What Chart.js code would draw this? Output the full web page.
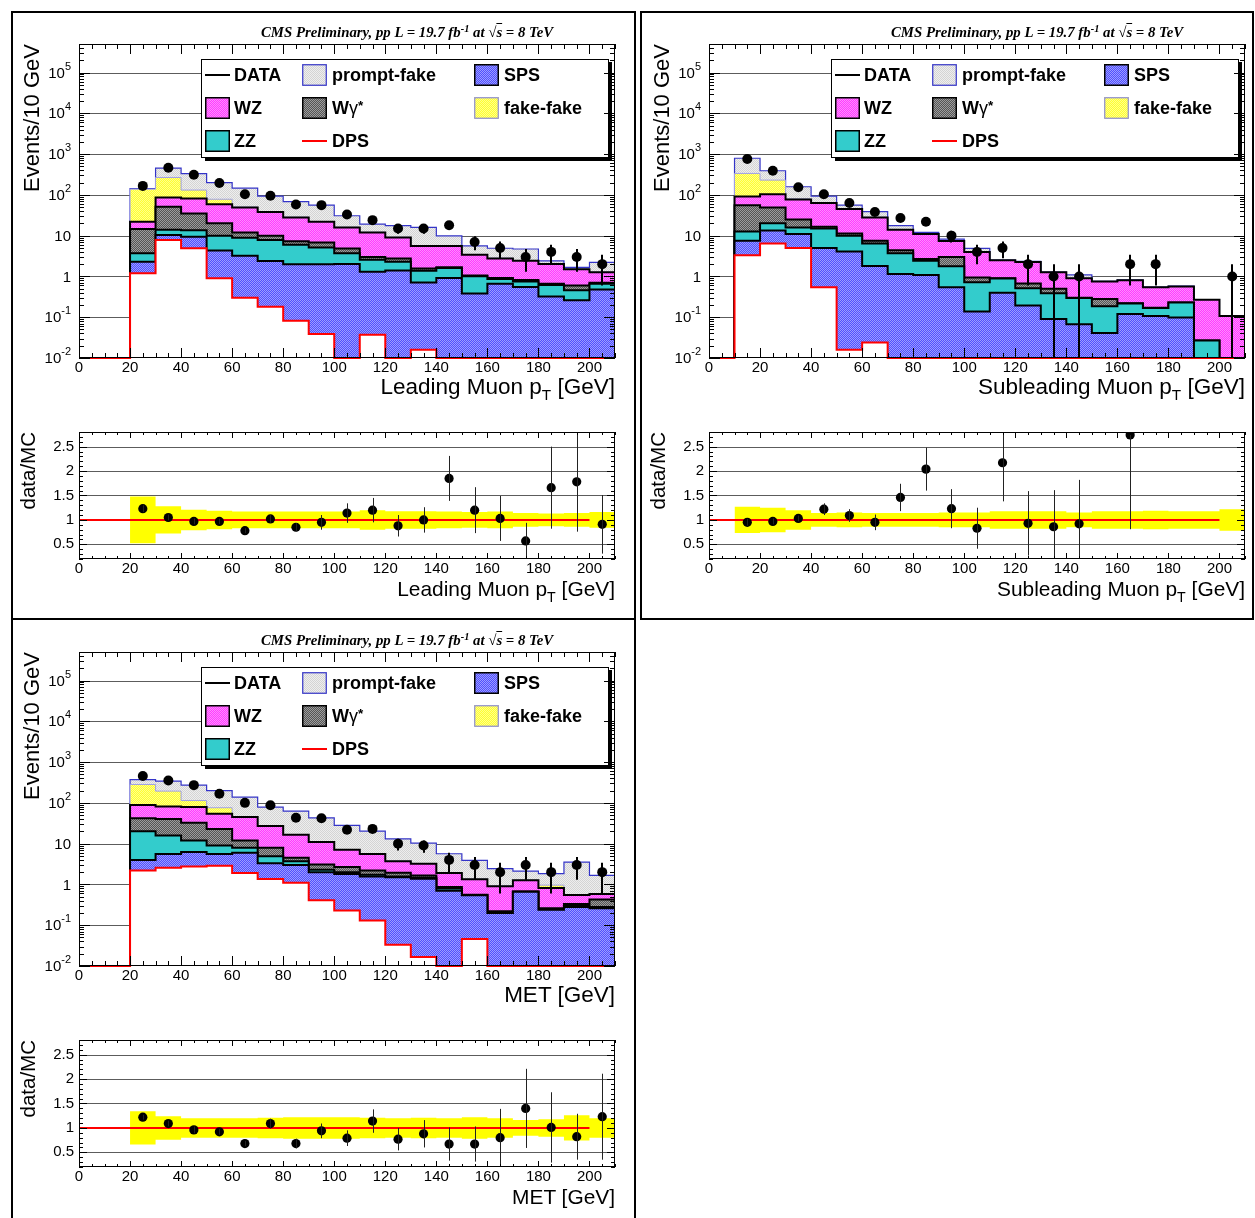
<!DOCTYPE html>
<html>
<head>
<meta charset="utf-8">
<script src="https://cdn.jsdelivr.net/npm/chart.js@4.4.1/dist/chart.umd.min.js"></script>
<style>
html,body{margin:0;padding:0;background:#fff}
body{width:1255px;height:1218px;position:relative;overflow:hidden;font-family:"Liberation Sans",Arial,Helvetica,sans-serif;color:#000}
.frame{position:absolute;border:2px solid #000;box-sizing:border-box}
canvas{position:absolute;display:block}
.cms{position:absolute;font-family:"Liberation Serif","Times New Roman",serif;font-style:italic;font-weight:bold;font-size:14.8px;white-space:nowrap;line-height:1}
.cms sup{font-size:0.7em;vertical-align:0;position:relative;top:-0.5em}
.rt{text-decoration:overline}
.xt{position:absolute;white-space:nowrap;line-height:1;text-align:right}
.yt{position:absolute;white-space:nowrap;line-height:1;transform-origin:0 0;transform:rotate(-90deg) translateX(-100%)}
.sub{position:relative;font-size:0.68em;top:0.38em}
.lg{position:absolute;font-weight:bold;font-size:18px;line-height:1;white-space:nowrap}
.lg sup{font-size:0.75em;vertical-align:0;position:relative;top:-0.3em}
</style>
</head>
<body>
<script>
// ================= DATA =================
const XMAX = 210;
const YMIN = 0.01, YMAX = 5e5;
const RMIN = 0.2, RMAX = 2.8;
const binLow = [0,10,20,30,40,50,60,70,80,90,100,110,120,130,140,150,160,170,180,190,200];
const binCenter = [5,15,25,35,45,55,65,75,85,95,105,115,125,135,145,155,165,175,185,195,205];
const logTickValues = [1e-2,1e-1,1,10,1e2,1e3,1e4,1e5];
const logTickLabels = ['10^-2','10^-1','1','10','10^2','10^3','10^4','10^5'];
const ratioTickValues = [0.5,1,1.5,2,2.5];
const ratioTickLabels = ['0.5','1','1.5','2','2.5'];
const legendLabels = ['DATA','prompt-fake','SPS','WZ','W<span style="font-weight:normal">γ</span><sup>*</sup>','fake-fake','ZZ','DPS'];

// ---- Leading muon pT ----
const lead_dps = [0,0,1.2,7.8,4.9,0.9,0.3,0.18,0.082,0.039,0,0.037,0,0.016,0,0,0,0,0,0,0];
const lead_sps = [0,0,1.1,2.5,4.5,3.4,2.9,2.22,1.92,1.96,2.0,1.26,1.38,0.69,0.91,0.37,0.65,0.54,0.31,0.25,0.47];
const lead_zz  = [0,0,1.4,3.6,4.2,5.7,5.7,5.4,4.0,3.1,1.7,1.26,0.91,0.67,0.69,0.63,0.21,0.20,0.30,0.20,0.18];
const lead_wg  = [0,0,10.8,37,21.4,10,3.1,2.2,1.3,1.7,1.15,0.44,0.47,0.19,0.06,0.04,0.05,0.07,0.04,0.14,0.04];
const lead_wz  = [0,0,7.5,35,47,39,37,28,20.7,15.2,11.05,9.0,6.24,4.03,3.94,2.36,1.85,1.59,1.35,0.91,0.56];
const lead_ff  = [0,0,116,181,49,19,1,0.5,0.3,0.2,0.1,0.1,0.1,0.05,0.05,0.02,0.02,0.01,0.01,0.01,0.01];
const lead_pf  = [0,0,5,183,199,122,96,54.5,39.7,33.8,14.7,7.1,8.4,10.25,4.25,2.18,2.12,2.29,0.39,0.15,0.94];
const lead_data    = [null,null,166,460,310,195,104,95,58,56,33,24,15,15,18,7,5,3,4,3,2];
const lead_dataErr = [null,null,12.9,21.4,17.6,14.0,10.2,9.7,7.6,7.5,5.7,4.9,3.9,3.9,4.2,2.6,2.2,1.7,2.0,1.7,1.4];
const lead_ratio    = [null,null,1.23,1.05,0.97,0.97,0.78,1.02,0.85,0.95,1.14,1.2,0.88,1.0,1.85,1.2,1.03,0.57,1.66,1.78,0.91];
const lead_ratioErr = [null,null,0.07,0.06,0.06,0.055,0.05,0.08,0.085,0.15,0.2,0.25,0.22,0.26,0.46,0.47,0.46,0.37,0.84,1.02,0.6];
const lead_mcUnc    = [null,null,0.48,0.28,0.21,0.19,0.17,0.17,0.17,0.17,0.17,0.2,0.18,0.18,0.17,0.16,0.17,0.14,0.13,0.14,0.16];

// ---- Subleading muon pT ----
const sub_dps = [0,3.3,6.4,5.0,0.54,0.016,0.024,0,0,0,0,0,0,0,0,0,0,0,0,0,0];
const sub_sps = [0,4.2,7.0,6.0,4.46,4.08,1.78,1.14,1.08,0.53,0.129,0.39,0.184,0.080,0.057,0.031,0.11,0.097,0.088,0,0];
const sub_zz  = [0,5.2,6.6,4.9,10,5.8,4.6,2.56,1.32,1.23,0.58,0.49,0.316,0.296,0.227,0.146,0.096,0.061,0.130,0.017,0];
const sub_wg  = [0,43.3,29,9.1,1.5,1.4,1.1,0.7,0.26,1.22,0.22,0.01,0.16,0.114,0.006,0.093,0.004,0.002,0.002,0,0];
const sub_wz  = [0,35,55,52,46.5,33.5,20.5,9.5,8.24,4.37,3.02,1.58,1.58,0.76,0.60,0.47,0.59,0.37,0.34,0.241,0.097];
const sub_ff  = [0,244,126,3,0.5,0.2,0.2,0.1,0.1,0.05,0.01,0,0.01,0,0,0,0,0,0,0,0];
const sub_pf  = [0,455,160,78,29.5,11,10.8,3.5,1.0,0.8,0.9,0.03,0.08,0.02,0.19,0.01,0.01,0.01,0.01,0.002,0];
const sub_data    = [null,760,390,154,104,63,38,27,22,10,4,5,2,1,1,null,2,2,null,null,1];
const sub_dataErr = [null,27.6,19.7,12.4,10.2,7.9,6.2,5.2,4.7,3.2,2.0,2.2,1.4,1,1,null,1.4,1.4,null,null,1];
const sub_ratio    = [null,0.95,0.97,1.03,1.22,1.09,0.95,1.46,2.04,1.23,0.83,2.17,0.93,0.86,0.92,null,2.74,null,null,null,null];
const sub_ratioErr = [null,0.07,0.06,0.06,0.12,0.13,0.16,0.28,0.44,0.4,0.42,0.79,0.66,0.75,0.9,null,1.93,null,null,null,null];
const sub_mcUnc    = [null,0.27,0.25,0.2,0.14,0.15,0.14,0.14,0.14,0.15,0.15,0.18,0.18,0.18,0.15,0.18,0.18,0.19,0.18,0.18,0.22];

// ---- MET ----
const met_dps = [0,0,2.2,2.56,2.76,2.87,1.9,1.35,1.1,0.41,0.23,0.13,0.033,0.0166,0,0.046,0,0,0,0,0];
const met_sps = [0,0,1.8,3.04,3.44,2.73,4.1,1.95,1.9,1.59,1.57,1.44,1.467,1.363,0.69,0.494,0.19,0.65,0.23,0.27,0.25];
const met_zz  = [0,0,16,10.2,5.8,3.4,1.9,1.6,0.7,0.3,0.2,0.16,0.07,0.07,0.09,0.005,0.01,0.005,0.01,0.02,0.02];
const met_wg  = [0,0,22,24.2,20.5,14,4.1,3.0,0.8,0.8,0.66,0.47,0.36,0.21,0.08,0.01,0.01,0.005,0.01,0.03,0.15];
const met_wz  = [0,0,47,42,46.5,31,33,19.1,12,7.8,4.44,3.4,1.77,1.54,1.04,0.78,0.68,0.59,0.56,0.22,0.15];
const met_ff  = [0,0,193,112,35,22,1,0.3,0.2,0.1,0.05,0.05,0.02,0.02,0.01,0.01,0.01,0.01,0.14,0.005,0.005];
const met_pf  = [0,0,88,146,158,124,92,51.7,46.3,32,20.85,14.65,9.38,7.08,3.74,2.56,1.52,0.86,0.88,2.955,1.085];
const met_data    = [null,null,455,355,272,167,100,87,43,42,22,23,10,9,4,3,2,3,2,3,2];
const met_dataErr = [null,null,21.3,18.8,16.5,12.9,10,9.3,6.6,6.5,4.7,4.8,3.2,3,2,1.7,1.4,1.7,1.4,1.7,1.4];
const met_ratio    = [null,null,1.22,1.09,0.96,0.92,0.68,1.09,0.68,0.94,0.79,1.14,0.77,0.88,0.67,0.67,0.8,1.4,1.01,0.82,1.23];
const met_ratioErr = [null,null,0.05,0.06,0.07,0.06,0.055,0.1,0.1,0.15,0.16,0.24,0.23,0.28,0.34,0.36,0.59,0.81,0.72,0.47,0.88];
const met_mcUnc    = [null,null,0.34,0.24,0.2,0.2,0.2,0.21,0.22,0.22,0.22,0.21,0.2,0.21,0.2,0.22,0.2,0.16,0.18,0.26,0.2];

// ================= STYLE =================
Chart.defaults.font.family = '"Liberation Sans", Arial, Helvetica, sans-serif';
Chart.defaults.font.size = 15;
Chart.defaults.color = '#000';

function checker(c1, c2) {
  const cv = document.createElement('canvas'); cv.width = 2; cv.height = 2;
  const g = cv.getContext('2d');
  g.fillStyle = c1; g.fillRect(0, 0, 2, 2);
  g.fillStyle = c2; g.fillRect(0, 0, 1, 1); g.fillRect(1, 1, 1, 1);
  return g.createPattern(cv, 'repeat');
}
const FILL = {
  pf: checker('#eeeeee', '#d4d4d4'),
  ff: checker('#ffff30', '#ffff8c'),
  wz: checker('#ff3cff', '#ff8cff'),
  wg: checker('#555555', '#9c9c9c'),
  zz: '#33cccc',
  sps: checker('#4f4fff', '#9c9cff')
};
const LINE = { pf: '#3434c8', ff: '#a0a0e6', wz: '#000', wg: '#000', zz: '#000', sps: '#000', dps: '#ff0000' };

function stepPts(vals, floorv) {
  const pts = [];
  binLow.forEach((b, i) => {
    const v = vals[i];
    if (v === null) { pts.push({x: b, y: null}); return; }
    pts.push({x: b, y: v > 0 ? v : floorv});
  });
  pts.push({x: XMAX, y: pts[pts.length - 1].y});
  return pts;
}

function drawLegendBox(ctx, a, entries) {
  const X = v => a.left + v, Y = v => a.top + v;
  ctx.save();
  ctx.fillStyle = '#000';
  ctx.fillRect(X(126), Y(113), 407, 4);
  ctx.fillRect(X(529), Y(18), 4, 99);
  ctx.fillStyle = '#fff';
  ctx.fillRect(X(122), Y(15), 408, 99);
  ctx.strokeStyle = '#000'; ctx.lineWidth = 1;
  ctx.strokeRect(X(122) + 0.5, Y(15) + 0.5, 407, 98);
  const cols = [126, 223, 395], rows = [31, 64, 97];
  entries.forEach(e => {
    const x0 = X(cols[e.c]), cy = Y(rows[e.r]);
    if (e.kind === 'line') {
      ctx.strokeStyle = e.stroke; ctx.lineWidth = 2;
      ctx.beginPath(); ctx.moveTo(x0, cy); ctx.lineTo(x0 + 25, cy); ctx.stroke();
    } else {
      ctx.fillStyle = e.fill; ctx.fillRect(x0, cy - 11, 25, 22);
      ctx.strokeStyle = e.stroke; ctx.lineWidth = e.lw || 1.5;
      ctx.strokeRect(x0 + 0.75, cy - 10.25, 23.5, 20.5);
    }
  });
  ctx.restore();
}

const rootPlugin = {
  id: 'rootPlugin',
  beforeDatasetsDraw(chart, _a, o) {
    const {ctx, chartArea: a} = chart; const y = chart.scales.y;
    ctx.save(); ctx.strokeStyle = o.gridColor; ctx.lineWidth = 1;
    o.grid.forEach(v => {
      const py = Math.round(y.getPixelForValue(v)) + 0.5;
      ctx.beginPath(); ctx.moveTo(a.left, py); ctx.lineTo(a.right, py); ctx.stroke();
    });
    ctx.restore();
  },
  afterDatasetsDraw(chart, _a, o) {
    const {ctx, chartArea: a} = chart; const x = chart.scales.x, y = chart.scales.y;
    ctx.save();
    ctx.beginPath(); ctx.rect(a.left, a.top, a.right - a.left, a.bottom - a.top); ctx.clip();
    ctx.strokeStyle = o.errColor; ctx.lineWidth = o.errWidth;
    o.err.x.forEach((cx, i) => {
      const v = o.err.v[i], e = o.err.e[i];
      if (v == null || e == null) return;
      const px = Math.round(x.getPixelForValue(cx)) + (o.errWidth % 2 ? 0.5 : 0);
      const lo = Math.max(v - e, y.min);
      ctx.beginPath(); ctx.moveTo(px, y.getPixelForValue(lo)); ctx.lineTo(px, y.getPixelForValue(v + e)); ctx.stroke();
    });
    ctx.restore();
    if (o.legend) drawLegendBox(ctx, a, o.legend);
  },
  afterDraw(chart, _a, o) {
    const {ctx, chartArea: a} = chart; const x = chart.scales.x, y = chart.scales.y;
    ctx.save();
    ctx.strokeStyle = '#000'; ctx.lineWidth = 1;
    ctx.beginPath();
    for (let v = 0; v <= XMAX; v += 5) {
      const px = Math.round(x.getPixelForValue(v)) + 0.5;
      const len = v % 20 === 0 ? o.xMaj : o.xMin;
      ctx.moveTo(px, a.bottom); ctx.lineTo(px, a.bottom - len);
      ctx.moveTo(px, a.top); ctx.lineTo(px, a.top + len);
    }
    o.yTicks.forEach(([v, major]) => {
      const py = Math.round(y.getPixelForValue(v)) + 0.5;
      const len = major ? o.yMaj : o.yMin;
      ctx.moveTo(a.left, py); ctx.lineTo(a.left + len, py);
      ctx.moveTo(a.right, py); ctx.lineTo(a.right - len, py);
    });
    ctx.stroke();
    ctx.strokeRect(Math.round(a.left) + 0.5, Math.round(a.top) + 0.5, Math.round(a.right - a.left) - 1, Math.round(a.bottom - a.top) - 1);
    if (o.logLabels) {
      ctx.fillStyle = '#000'; ctx.textBaseline = 'middle'; ctx.textAlign = 'left';
      const fb = '15px "Liberation Sans", Arial, sans-serif', fe = '11px "Liberation Sans", Arial, sans-serif';
      logTickValues.forEach((v, i) => {
        const parts = logTickLabels[i].split('^');
        const py = y.getPixelForValue(v);
        const R = a.left - 8;
        ctx.font = fe; const ew = parts[1] ? ctx.measureText(parts[1]).width : 0;
        ctx.font = fb; const bw = ctx.measureText(parts[0]).width;
        ctx.fillText(parts[0], R - ew - bw, py + 1);
        if (parts[1]) { ctx.font = fe; ctx.fillText(parts[1], R - ew, py - 6); }
      });
    }
    ctx.restore();
  }
};

function logTicks() {
  const t = [];
  for (let d = -2; d <= 5; d++) {
    for (let m = 1; m <= 9; m++) {
      const v = m * Math.pow(10, d);
      if (v <= YMAX) t.push([v, m === 1]);
    }
  }
  return t;
}
function ratioTicks() {
  const t = [];
  for (let k = 2; k <= 28; k++) t.push([k / 10, k % 5 === 0]);
  return t;
}

function el(cls, left, top, html, style) {
  const d = document.createElement('div');
  d.className = cls; d.style.left = left + 'px'; d.style.top = top + 'px';
  if (style) d.setAttribute('style', d.getAttribute('style') + ';' + style);
  d.innerHTML = html; document.body.appendChild(d); return d;
}
function mkCanvas(left, top, w, h) {
  const c = document.createElement('canvas');
  c.width = w; c.height = h; c.style.left = left + 'px'; c.style.top = top + 'px';
  c.style.width = w + 'px'; c.style.height = h + 'px';
  document.body.appendChild(c); return c;
}

const xScaleCommon = {
  type: 'linear', min: 0, max: XMAX,
  ticks: { stepSize: 20, includeBounds: false, autoSkip: false, maxRotation: 0, minRotation: 0, padding: 1, font: { size: 15 } },
  grid: { display: false, drawTicks: false }, border: { display: false },
  afterFit(s) { s.height = 30; }
};

function makePanel(P) {
  const ox = P.ox, oy = P.oy;
  // ---------- main plot ----------
  const cMain = mkCanvas(12 + ox, 12 + oy, 623, 376);
  const layers = [
    { label: 'DPS', v: P.dps, fill: 'start', bg: '#ffffff', line: LINE.dps, w: 2, floor: YMIN, clip: { left: 0, top: 0, right: 0, bottom: 2 } },
    { label: 'SPS', v: P.sps, fill: '-1', bg: FILL.sps, line: LINE.sps, w: 2 },
    { label: 'ZZ', v: P.zz, fill: '-1', bg: FILL.zz, line: LINE.zz, w: 2 },
    { label: 'Wγ*', v: P.wg, fill: '-1', bg: FILL.wg, line: LINE.wg, w: 2 },
    { label: 'WZ', v: P.wz, fill: '-1', bg: FILL.wz, line: LINE.wz, w: 2 },
    { label: 'fake-fake', v: P.ff, fill: '-1', bg: FILL.ff, line: LINE.ff, w: 1 },
    { label: 'prompt-fake', v: P.pf, fill: '-1', bg: FILL.pf, line: LINE.pf, w: 1.2 }
  ];
  const ds = layers.map(L => {
    const d = {
      label: L.label, data: stepPts(L.v, L.floor || 1e-9), stack: 'mc', stepped: 'before',
      borderColor: L.line, borderWidth: L.w, backgroundColor: L.bg, fill: L.fill,
      pointRadius: 0, tension: 0
    };
    if (L.clip) d.clip = L.clip;
    return d;
  });
  ds.push({
    label: 'DATA', data: binCenter.map((c, i) => ({ x: c, y: P.data[i] })), stack: 'data', order: -1,
    showLine: false, pointRadius: 5, pointBackgroundColor: '#000', pointBorderWidth: 0, borderColor: '#000', fill: false
  });
  new Chart(cMain, {
    type: 'line',
    data: { datasets: ds },
    options: {
      responsive: false, animation: false, events: [],
      layout: { padding: { left: 67, right: 20, top: 32, bottom: 0 } },
      scales: {
        x: xScaleCommon,
        y: { type: 'logarithmic', display: false, min: YMIN, max: YMAX, stacked: true }
      },
      plugins: {
        legend: { display: false }, tooltip: { enabled: false },
        rootPlugin: {
          grid: [1e-1, 1, 10, 1e2, 1e3, 1e4, 1e5], gridColor: '#5c5c5c',
          err: { x: binCenter, v: P.data, e: P.dataErr }, errColor: '#000', errWidth: 2,
          xMaj: 10, xMin: 5, yMaj: 11, yMin: 5, yTicks: logTicks(), logLabels: true,
          legend: [
            { c: 0, r: 0, kind: 'line', stroke: '#000' },
            { c: 1, r: 0, kind: 'box', fill: FILL.pf, stroke: '#3434c8', lw: 1.2 },
            { c: 2, r: 0, kind: 'box', fill: FILL.sps, stroke: '#000' },
            { c: 0, r: 1, kind: 'box', fill: FILL.wz, stroke: '#000' },
            { c: 1, r: 1, kind: 'box', fill: FILL.wg, stroke: '#000' },
            { c: 2, r: 1, kind: 'box', fill: FILL.ff, stroke: '#8c8ce0', lw: 1.2 },
            { c: 0, r: 2, kind: 'box', fill: FILL.zz, stroke: '#000' },
            { c: 1, r: 2, kind: 'line', stroke: '#ff0000' }
          ]
        }
      }
    },
    plugins: [rootPlugin]
  });

  // ---------- ratio plot ----------
  const cRat = mkCanvas(12 + ox, 400 + oy, 623, 189);
  new Chart(cRat, {
    type: 'line',
    data: {
      datasets: [
        { label: 'data/MC', data: binCenter.map((c, i) => ({ x: c, y: P.ratio[i] })), showLine: false,
          pointRadius: 4.6, pointBackgroundColor: '#000', pointBorderWidth: 0, borderColor: '#000', fill: false },
        { label: 'unity', data: [{ x: 0, y: 1 }, { x: 200, y: 1 }], borderColor: '#ff0000', borderWidth: 2, pointRadius: 0, fill: false },
        { label: 'MC unc. low', data: stepPts(P.mcUnc.map(u => u === null ? null : 1 - u), 1e-9), stepped: 'before',
          borderWidth: 0, borderColor: 'rgba(0,0,0,0)', pointRadius: 0, fill: false },
        { label: 'MC unc. high', data: stepPts(P.mcUnc.map(u => u === null ? null : 1 + u), 1e-9), stepped: 'before',
          borderWidth: 0, borderColor: 'rgba(0,0,0,0)', backgroundColor: '#ffff00', pointRadius: 0, fill: '-1' }
      ]
    },
    options: {
      responsive: false, animation: false, events: [],
      layout: { padding: { left: 0, right: 20, top: 32, bottom: 0 } },
      scales: {
        x: xScaleCommon,
        y: { type: 'linear', min: RMIN, max: RMAX,
             ticks: { stepSize: 0.5, includeBounds: false, padding: 5, font: { size: 15 },
                      callback: v => { const k = ratioTickValues.findIndex(t => Math.abs(t - v) < 1e-6); return k >= 0 ? ratioTickLabels[k] : ''; } },
             grid: { display: false, drawTicks: false }, border: { display: false },
             afterFit(s) { s.width = 67; } }
      },
      plugins: {
        legend: { display: false }, tooltip: { enabled: false },
        rootPlugin: {
          grid: [0.5, 1, 1.5, 2, 2.5], gridColor: '#5c5c5c',
          err: { x: binCenter, v: P.ratio, e: P.ratioErr }, errColor: '#222', errWidth: 1,
          xMaj: 6, xMin: 3, yMaj: 8, yMin: 4, yTicks: ratioTicks(), logLabels: false, legend: null
        }
      }
    },
    plugins: [rootPlugin]
  });

  // ---------- texts ----------
  el('cms', 261 + ox, 25 + oy, 'CMS Preliminary, pp L = 19.7 fb<sup>-1</sup> at &#8730;<span class="rt">s</span> = 8 TeV');
  el('yt', 20.7 + ox, 44 + oy, 'Events/10 GeV', 'font-size:22px');
  el('xt', 15 + ox, 376 + oy, P.xTitle, 'font-size:22.5px;width:600px');
  el('yt', 17.6 + ox, 432 + oy, 'data/MC', 'font-size:20.5px');
  el('xt', 15 + ox, 579.4 + oy, P.xTitle, 'font-size:20.9px;width:600px');
  const tcols = [155, 253, 425], trows = [31, 64, 97];
  const lpos = [[0,0],[1,0],[2,0],[0,1],[1,1],[2,1],[0,2],[1,2]];
  legendLabels.forEach((t, i) => {
    el('lg', 79 + ox + tcols[lpos[i][0]], 44 + oy + trows[lpos[i][1]] - 9, t);
  });
}

// frames
el('frame', 11, 11, '', 'width:625px;height:609px');
el('frame', 640, 11, '', 'width:614px;height:609px');
el('frame', 11, 618, '', 'width:625px;height:640px');

makePanel({ ox: 0, oy: 0, xTitle: 'Leading Muon p<span class="sub">T</span> [GeV]',
  dps: lead_dps, sps: lead_sps, zz: lead_zz, wg: lead_wg, wz: lead_wz, ff: lead_ff, pf: lead_pf,
  data: lead_data, dataErr: lead_dataErr, ratio: lead_ratio, ratioErr: lead_ratioErr, mcUnc: lead_mcUnc });
makePanel({ ox: 630, oy: 0, xTitle: 'Subleading Muon p<span class="sub">T</span> [GeV]',
  dps: sub_dps, sps: sub_sps, zz: sub_zz, wg: sub_wg, wz: sub_wz, ff: sub_ff, pf: sub_pf,
  data: sub_data, dataErr: sub_dataErr, ratio: sub_ratio, ratioErr: sub_ratioErr, mcUnc: sub_mcUnc });
makePanel({ ox: 0, oy: 608, xTitle: 'MET [GeV]',
  dps: met_dps, sps: met_sps, zz: met_zz, wg: met_wg, wz: met_wz, ff: met_ff, pf: met_pf,
  data: met_data, dataErr: met_dataErr, ratio: met_ratio, ratioErr: met_ratioErr, mcUnc: met_mcUnc });
</script>
</body>
</html>
